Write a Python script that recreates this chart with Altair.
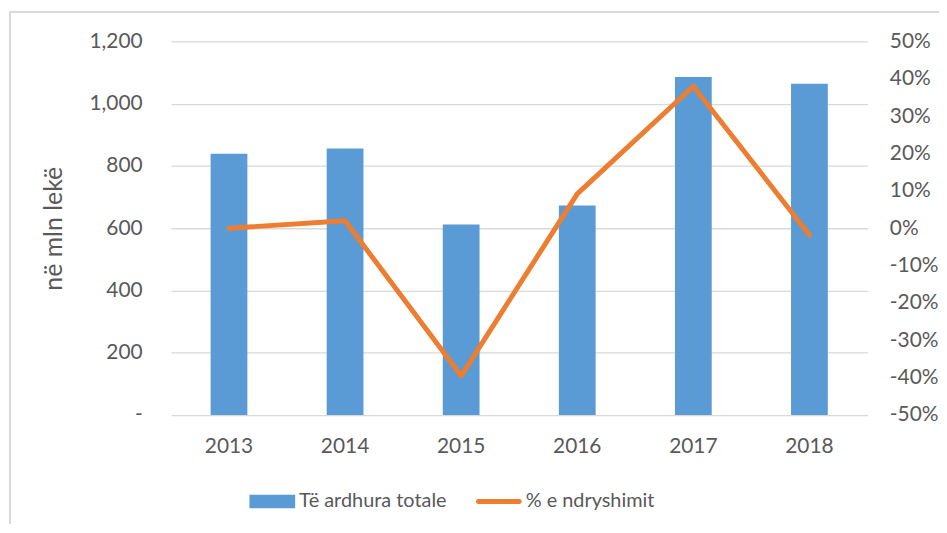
import altair as alt
import pandas as pd

years = ["2013", "2014", "2015", "2016", "2017", "2018"]
revenue = [839, 856, 612, 673, 1086, 1064]
pct_change = [0.0, 0.02, -0.395, 0.092, 0.38, -0.018]

bar_label = "Të ardhura totale"
line_label = "% e ndryshimit"
left_ticks = [0, 200, 400, 600, 800, 1000, 1200]
right_ticks = [-0.5, -0.4, -0.3, -0.2, -0.1, 0.0, 0.1, 0.2, 0.3, 0.4, 0.5]

df = pd.DataFrame({"year": years, "revenue": revenue, "pct": pct_change})

FONT = "Lato"
GRAY = "#595959"
BLUE = "#5B9BD5"
ORANGE = "#ED7D31"
FS = 21

color_scale = alt.Scale(domain=[bar_label, line_label], range=[BLUE, ORANGE])

rect_path = "M-1,-0.3H1V0.3H-1Z"
line_path = "M-0.89,-0.11H0.89A0.11,0.11 0 0 1 0.89,0.11H-0.89A0.11,0.11 0 0 1 -0.89,-0.11Z"

legend = alt.Legend(
    title=None,
    orient="none",
    legendX=79,
    legendY=440,
    direction="horizontal",
    symbolSize=2116,
    symbolStrokeWidth=0,
    symbolOpacity=1,
    symbolType=alt.ExprRef(expr=f"datum.index === 0 ? '{rect_path}' : '{line_path}'"),
    symbolFillColor=alt.ExprRef(expr=f"datum.index === 0 ? '{BLUE}' : '{ORANGE}'"),
    labelFont=FONT,
    labelFontSize=20,
    labelColor=GRAY,
    labelOffset=4,
    columnPadding=29,
    padding=0,
)

x_axis = alt.Axis(
    labelAngle=0,
    ticks=False,
    domain=False,
    grid=False,
    labelFont=FONT,
    labelFontSize=FS,
    labelColor=GRAY,
    labelPadding=21,
)
x_scale = alt.Scale(paddingInner=0, paddingOuter=0)

bars = alt.Chart(df).transform_calculate(series=f"'{bar_label}'").mark_bar(size=37).encode(
    x=alt.X("year:O", title=None, scale=x_scale, axis=x_axis),
    y=alt.Y(
        "revenue:Q",
        title="në mln lekë",
        scale=alt.Scale(domain=[0, 1200], nice=False, zero=True),
        axis=alt.Axis(
            values=left_ticks,
            labelExpr="datum.value == 0 ? '-' : format(datum.value, ',')",
            ticks=False,
            domain=False,
            grid=True,
            gridColor="#D9D9D9",
            gridWidth=1.3,
            labelFont=FONT,
            labelFontSize=FS,
            labelColor=GRAY,
            labelPadding=29,
            titleFont=FONT,
            titleFontSize=25,
            titleFontWeight="normal",
            titleColor=GRAY,
            titlePadding=23,
        ),
    ),
    color=alt.Color("series:N", scale=color_scale, legend=legend),
)

line = alt.Chart(df).transform_calculate(series=f"'{line_label}'").mark_line(
    strokeWidth=5, strokeCap="round", strokeJoin="round"
).encode(
    x=alt.X("year:O", title=None, scale=x_scale, axis=x_axis),
    y=alt.Y(
        "pct:Q",
        title=None,
        scale=alt.Scale(domain=[-0.5, 0.5], nice=False, zero=False),
        axis=alt.Axis(
            orient="right",
            values=right_ticks,
            labelExpr="round(datum.value * 100) + '%'",
            ticks=False,
            domain=False,
            grid=False,
            labelFont=FONT,
            labelFontSize=FS,
            labelColor=GRAY,
            labelPadding=22,
        ),
    ),
    color=alt.Color("series:N", scale=color_scale, legend=legend),
)

frame_left = alt.Chart(df).mark_rule(color="#D9D9D9", strokeWidth=1.5).encode(
    x=alt.value(-162), y=alt.value(-30), y2=alt.value(520)
)
frame_top = alt.Chart(df).mark_rule(color="#D9D9D9", strokeWidth=1.5).encode(
    x=alt.value(-162), x2=alt.value(790), y=alt.value(-30)
)

chart = (
    alt.layer(frame_left, frame_top, bars, line)
    .resolve_scale(y="independent")
    .properties(
        width=701,
        height=376,
        background="white",
        padding={"left": 164, "top": 32, "right": 72, "bottom": 108},
        autosize=alt.AutoSizeParams(type="none"),
    )
    .configure_view(stroke="transparent", strokeWidth=0)
)

chart.save("out.html", embed_options={"renderer": "svg", "actions": False})
